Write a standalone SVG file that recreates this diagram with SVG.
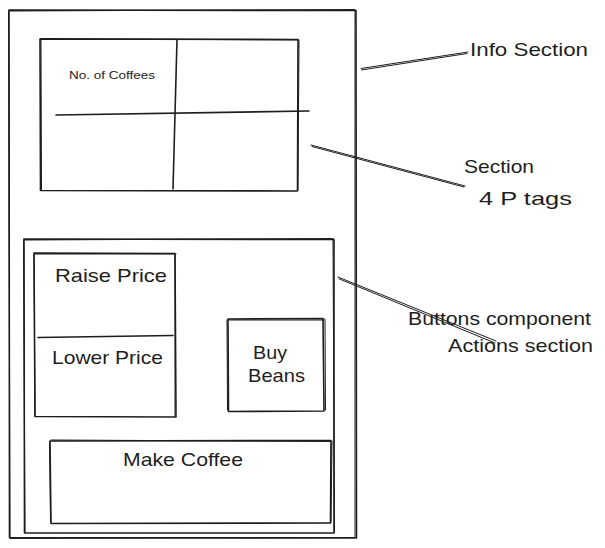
<svg xmlns="http://www.w3.org/2000/svg" width="605" height="548" viewBox="0 0 605 548">
<style>
.s{fill:none;stroke:#1e1e1e;stroke-width:1.6;stroke-linecap:round;stroke-linejoin:round}
.t{fill:none;stroke:#1e1e1e;stroke-width:1;stroke-linecap:round}
.l{font-family:"Liberation Sans","DejaVu Sans",sans-serif;font-size:19px;fill:#1e1e1e}
.sm{font-size:10.5px}
</style>
<rect width="605" height="548" fill="#ffffff"/>
<g id="outer">
<path class="s" d="M9 10 L356 10.5 L356.5 538 L9.5 537.5 Z"/>
<path class="t" d="M10 11 L355 9.5 L355 537 M354 537.5 L10 538.5 L8.5 11"/>
</g>
<g id="info-section">
<path class="s" d="M40 39 L298 39.5 L297.5 191 L40.5 190.5 Z"/>
<path class="t" d="M41 38.5 L297 40 M299 40 L298 190 M41 40 L41.5 190"/>
<path class="s" d="M177 39.5 L173 189"/>
<path class="s" d="M56 115 L309 111"/>
<text class="l sm" x="69" y="79" textLength="86" lengthAdjust="spacingAndGlyphs">No. of Coffees</text>
</g>
<g id="actions-section">
<path class="s" d="M24 239 L334 239.5 L334 533 L24.5 533 Z"/>
<path class="t" d="M25 240 L333 238.5 M333 240 L334.5 532 M25 532 L23.5 240"/>
</g>
<g id="price-buttons">
<path class="s" d="M34 253 L175 253.5 L176 417 L35 416.5 Z"/>
<path class="t" d="M35 254 L176 254 M175 255 L175 416 M34 255 L35 416"/>
<path class="s" d="M38 337.5 L173 335.5"/>
<text class="l" x="55" y="282" textLength="112" lengthAdjust="spacingAndGlyphs">Raise Price</text>
<text class="l" x="52" y="364" textLength="111" lengthAdjust="spacingAndGlyphs">Lower Price</text>
</g>
<g id="buy-beans">
<path class="s" d="M228 319 L323 318.5 L324 411 L228.5 411.5 Z"/>
<path class="t" d="M229 320 L324 320 M325 319 L325.5 410 M227 320 L227.5 410"/>
<text class="l" x="253" y="359" textLength="34" lengthAdjust="spacingAndGlyphs">Buy</text>
<text class="l" x="248" y="382" textLength="57" lengthAdjust="spacingAndGlyphs">Beans</text>
</g>
<g id="make-coffee">
<path class="s" d="M50 441 L331 440.5 L330.5 523 L51 523.5 Z"/>
<path class="t" d="M51 440 L330 441.5 M332 441 L331 522 M49.5 442 L50.5 522"/>
<text class="l" x="123" y="466" textLength="120" lengthAdjust="spacingAndGlyphs">Make Coffee</text>
</g>
<g id="labels">
<text class="l" x="470" y="56" textLength="118" lengthAdjust="spacingAndGlyphs">Info Section</text>
<text class="l" x="464" y="173" textLength="70" lengthAdjust="spacingAndGlyphs">Section</text>
<text class="l" x="479" y="205" textLength="93" lengthAdjust="spacingAndGlyphs">4 P tags</text>
<text class="l" x="408" y="325" textLength="183" lengthAdjust="spacingAndGlyphs">Buttons component</text>
<text class="l" x="448" y="352" textLength="145" lengthAdjust="spacingAndGlyphs">Actions section</text>
</g>
<g id="connectors">
<path class="t" d="M361 68.5 L468 52"/>
<path class="t" d="M361.5 70 L467 53.5"/>
<path class="t" d="M311 145 L465 186"/>
<path class="t" d="M312 146.5 L464 187"/>
<path class="t" d="M338 277 L496 341"/>
<path class="t" d="M339 278.8 L495 343"/>
</g>
</svg>
